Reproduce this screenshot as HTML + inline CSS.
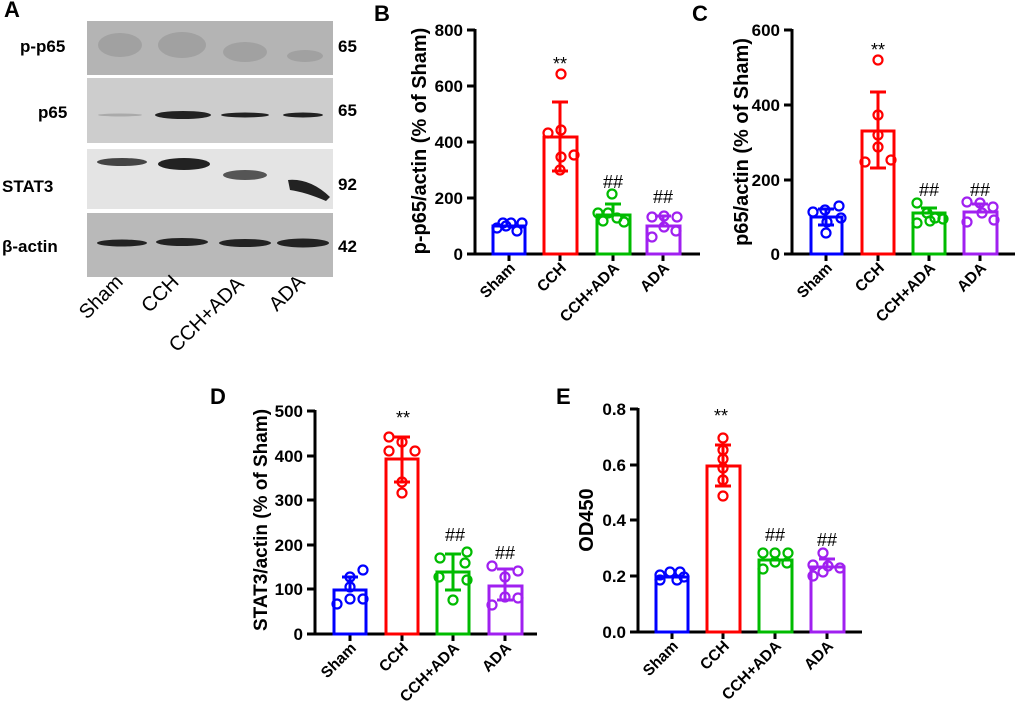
<!DOCTYPE html>
<html><head><meta charset="utf-8"><style>
html,body{margin:0;padding:0;background:#fff;}
svg{display:block;font-family:"Liberation Sans",Arial,sans-serif;}
.t{font-weight:bold;font-size:17px;}
.c{font-weight:bold;font-size:15.5px;}
.yl{font-weight:bold;font-size:20px;}
.pl{font-weight:bold;font-size:22px;}
.st{font-size:18px;}
.ax{stroke:#000;stroke-width:3;fill:none;}
.b{fill:none;stroke:blue;stroke-width:3}.bp{fill:none;stroke:blue;stroke-width:2.2}
.r{fill:none;stroke:#f00;stroke-width:3}.rp{fill:none;stroke:#f00;stroke-width:2.2}
.g{fill:none;stroke:#0b0;stroke-width:3}.gp{fill:none;stroke:#0b0;stroke-width:2.2}
.p{fill:none;stroke:#a020f0;stroke-width:3}.pp{fill:none;stroke:#a020f0;stroke-width:2.2}
.wb{font-weight:bold;font-size:17px;}
.ln{font-size:20px;}
</style></head><body>
<svg width="1020" height="719" viewBox="0 0 1020 719">
<!-- Panel A -->
<text x="4" y="17" class="pl">A</text>
<rect x="87" y="21" width="246" height="54" fill="#b4b4b4"/>
<rect x="87" y="78" width="246" height="65" fill="#cdcdcd"/>
<rect x="87" y="149" width="246" height="60" fill="#e4e4e4"/>
<rect x="87" y="213" width="246" height="64" fill="#b9b9b9"/>
<g fill="#999" opacity="0.7">
<ellipse cx="120" cy="45" rx="22" ry="12"/><ellipse cx="182" cy="45" rx="24" ry="13"/><ellipse cx="245" cy="52" rx="22" ry="10"/><ellipse cx="305" cy="56" rx="18" ry="6"/>
</g>
<g fill="#222">
<ellipse cx="120" cy="115" rx="22" ry="1.5" fill="#aaa"/>
<ellipse cx="183" cy="115" rx="28" ry="4"/><ellipse cx="245" cy="115" rx="24" ry="2.5"/><ellipse cx="303" cy="115" rx="20" ry="2.5"/>
<ellipse cx="122" cy="162" rx="25" ry="4" fill="#444"/><ellipse cx="184" cy="164" rx="26" ry="6"/><ellipse cx="245" cy="175" rx="22" ry="5" fill="#555"/>
<path d="M288 180 Q310 178 330 197 L326 201 Q305 192 290 190 Z"/>
<ellipse cx="122" cy="243" rx="25" ry="3.5"/><ellipse cx="182" cy="242" rx="26" ry="4"/><ellipse cx="245" cy="243" rx="26" ry="4"/><ellipse cx="303" cy="243" rx="26" ry="4.5"/>
</g>
<text x="20" y="52" class="wb">p-p65</text>
<text x="38" y="118" class="wb">p65</text>
<text x="2" y="192" class="wb">STAT3</text>
<text x="2" y="252" class="wb">β-actin</text>
<text x="338" y="52" class="wb">65</text>
<text x="338" y="116" class="wb">65</text>
<text x="338" y="190" class="wb">92</text>
<text x="338" y="252" class="wb">42</text>
<text class="ln" text-anchor="end" transform="translate(124,283) rotate(-45)">Sham</text>
<text class="ln" text-anchor="end" transform="translate(180,283) rotate(-45)">CCH</text>
<text class="ln" text-anchor="end" transform="translate(245,285) rotate(-45)">CCH+ADA</text>
<text class="ln" text-anchor="end" transform="translate(306,283) rotate(-45)">ADA</text>

<!-- Panel B -->
<text x="374" y="21" class="pl">B</text>
<path class="ax" d="M475 29 V254 H700"/>
<path class="ax" d="M467 30h8M467 86h8M467 142h8M467 198h8M467 254h8M509 254v7M560 254v7M613 254v7M663 254v7" stroke-width="2.5"/>
<g class="t" text-anchor="end"><text x="463" y="36">800</text><text x="463" y="92">600</text><text x="463" y="148">400</text><text x="463" y="204">200</text><text x="463" y="260">0</text></g>
<text class="yl" text-anchor="middle" transform="translate(426,141) rotate(-90)">p-p65/actin (% of Sham)</text>
<rect class="b" x="493" y="226" width="32" height="28"/>
<rect class="r" x="544" y="137" width="33" height="117"/>
<rect class="g" x="597" y="215" width="33" height="39"/>
<rect class="p" x="647" y="226" width="33" height="28"/>
<path class="r" d="M560 102V171M552 102h16M552 171h16" stroke-width="2"/>
<path class="g" d="M613 204v11M605 204h16" stroke-width="2"/>
<path class="p" d="M663 216v10M655 216h16" stroke-width="2"/>
<g class="bp"><circle cx="497" cy="228" r="4.5"/><circle cx="503" cy="223" r="4.5"/><circle cx="511" cy="223" r="4.5"/><circle cx="517" cy="231" r="4.5"/><circle cx="522" cy="223" r="4.5"/><circle cx="506" cy="226" r="4.5"/></g>
<g class="rp"><circle cx="561" cy="74" r="4.5"/><circle cx="548" cy="133" r="4.5"/><circle cx="561" cy="130" r="4.5"/><circle cx="561" cy="157" r="4.5"/><circle cx="574" cy="155" r="4.5"/><circle cx="560" cy="170" r="4.5"/></g>
<g class="gp"><circle cx="612" cy="194" r="4.5"/><circle cx="598" cy="213" r="4.5"/><circle cx="608" cy="213" r="4.5"/><circle cx="617" cy="218" r="4.5"/><circle cx="624" cy="222" r="4.5"/><circle cx="603" cy="221" r="4.5"/></g>
<g class="pp"><circle cx="652" cy="217" r="4.5"/><circle cx="664" cy="216" r="4.5"/><circle cx="677" cy="217" r="4.5"/><circle cx="652" cy="237" r="4.5"/><circle cx="664" cy="227" r="4.5"/><circle cx="676" cy="231" r="4.5"/></g>
<g class="st" text-anchor="middle"><text x="560" y="70">**</text><text x="613" y="188">##</text><text x="663" y="203">##</text></g>
<g class="c" text-anchor="end"><text transform="translate(516,269) rotate(-45)">Sham</text><text transform="translate(567,269) rotate(-45)">CCH</text><text transform="translate(620,269) rotate(-45)">CCH+ADA</text><text transform="translate(670,269) rotate(-45)">ADA</text></g>

<!-- Panel C -->
<text x="692" y="21" class="pl">C</text>
<path class="ax" d="M792 29 V254 H1015"/>
<path class="ax" d="M784 30h8M784 105h8M784 180h8M784 254h8M826 254v7M878 254v7M929 254v7M980 254v7" stroke-width="2.5"/>
<g class="t" text-anchor="end"><text x="780" y="36">600</text><text x="780" y="111">400</text><text x="780" y="186">200</text><text x="780" y="260">0</text></g>
<text class="yl" text-anchor="middle" transform="translate(748,142) rotate(-90)">p65/actin (% of Sham)</text>
<rect class="b" x="811" y="217" width="31" height="37"/>
<rect class="r" x="862" y="131" width="32" height="123"/>
<rect class="g" x="913" y="213" width="32" height="41"/>
<rect class="p" x="964" y="212" width="33" height="42"/>
<path class="b" d="M826 209V225M818 209h16M818 225h16" stroke-width="2"/>
<path class="r" d="M878 92V168M870 92h16M870 168h16" stroke-width="2"/>
<path class="g" d="M929 208v5M921 208h16" stroke-width="2"/>
<path class="p" d="M980 204v8M972 204h16" stroke-width="2"/>
<g class="bp"><circle cx="813" cy="212" r="4.5"/><circle cx="825" cy="210" r="4.5"/><circle cx="839" cy="206" r="4.5"/><circle cx="841" cy="218" r="4.5"/><circle cx="827" cy="222" r="4.5"/><circle cx="826" cy="233" r="4.5"/></g>
<g class="rp"><circle cx="878" cy="60" r="4.5"/><circle cx="878" cy="115" r="4.5"/><circle cx="878" cy="135" r="4.5"/><circle cx="878" cy="147" r="4.5"/><circle cx="865" cy="162" r="4.5"/><circle cx="891" cy="160" r="4.5"/></g>
<g class="gp"><circle cx="917" cy="203" r="4.5"/><circle cx="927" cy="213" r="4.5"/><circle cx="935" cy="218" r="4.5"/><circle cx="943" cy="219" r="4.5"/><circle cx="917" cy="223" r="4.5"/><circle cx="930" cy="221" r="4.5"/></g>
<g class="pp"><circle cx="967" cy="202" r="4.5"/><circle cx="980" cy="203" r="4.5"/><circle cx="993" cy="207" r="4.5"/><circle cx="982" cy="213" r="4.5"/><circle cx="967" cy="222" r="4.5"/><circle cx="994" cy="220" r="4.5"/></g>
<g class="st" text-anchor="middle"><text x="878" y="56">**</text><text x="929" y="196">##</text><text x="980" y="196">##</text></g>
<g class="c" text-anchor="end"><text transform="translate(833,269) rotate(-45)">Sham</text><text transform="translate(885,269) rotate(-45)">CCH</text><text transform="translate(936,269) rotate(-45)">CCH+ADA</text><text transform="translate(987,269) rotate(-45)">ADA</text></g>

<!-- Panel D -->
<text x="210" y="404" class="pl">D</text>
<path class="ax" d="M315 410 V634 H537"/>
<path class="ax" d="M307 411h8M307 456h8M307 500h8M307 545h8M307 589h8M307 634h8M350 634v7M402 634v7M453 634v7M505 634v7" stroke-width="2.5"/>
<g class="t" text-anchor="end"><text x="303" y="417">500</text><text x="303" y="462">400</text><text x="303" y="506">300</text><text x="303" y="551">200</text><text x="303" y="595">100</text><text x="303" y="640">0</text></g>
<text class="yl" text-anchor="middle" style="font-size:19px" transform="translate(267,520) rotate(-90)">STAT3/actin (% of Sham)</text>
<rect class="b" x="334" y="590" width="32" height="44"/>
<rect class="r" x="386" y="459" width="32" height="175"/>
<rect class="g" x="437" y="572" width="32" height="62"/>
<rect class="p" x="489" y="586" width="33" height="48"/>
<path class="b" d="M350 577v13M342 577h16" stroke-width="2"/>
<path class="r" d="M402 437V482M394 437h16M394 482h16" stroke-width="2"/>
<path class="g" d="M453 554V590M445 554h16M445 590h16" stroke-width="2"/>
<path class="p" d="M505 569V600M497 569h16M497 600h16" stroke-width="2"/>
<g class="bp"><circle cx="337" cy="604" r="4.5"/><circle cx="350" cy="577" r="4.5"/><circle cx="350" cy="587" r="4.5"/><circle cx="363" cy="570" r="4.5"/><circle cx="350" cy="599" r="4.5"/><circle cx="363" cy="599" r="4.5"/></g>
<g class="rp"><circle cx="389" cy="437" r="4.5"/><circle cx="402" cy="442" r="4.5"/><circle cx="415" cy="451" r="4.5"/><circle cx="389" cy="451" r="4.5"/><circle cx="402" cy="482" r="4.5"/><circle cx="402" cy="493" r="4.5"/></g>
<g class="gp"><circle cx="440" cy="558" r="4.5"/><circle cx="467" cy="552" r="4.5"/><circle cx="465" cy="563" r="4.5"/><circle cx="439" cy="577" r="4.5"/><circle cx="467" cy="580" r="4.5"/><circle cx="453" cy="600" r="4.5"/></g>
<g class="pp"><circle cx="492" cy="566" r="4.5"/><circle cx="518" cy="571" r="4.5"/><circle cx="505" cy="577" r="4.5"/><circle cx="492" cy="605" r="4.5"/><circle cx="505" cy="597" r="4.5"/><circle cx="518" cy="598" r="4.5"/></g>
<g class="st" text-anchor="middle"><text x="403" y="424">**</text><text x="455" y="541">##</text><text x="505" y="559">##</text></g>
<g class="c" text-anchor="end"><text transform="translate(357,649) rotate(-45)">Sham</text><text transform="translate(409,649) rotate(-45)">CCH</text><text transform="translate(460,649) rotate(-45)">CCH+ADA</text><text transform="translate(512,649) rotate(-45)">ADA</text></g>

<!-- Panel E -->
<text x="556" y="404" class="pl">E</text>
<path class="ax" d="M638 408 V632 H862"/>
<path class="ax" d="M630 409h8M630 465h8M630 520h8M630 576h8M630 632h8M672 632v7M723 632v7M775 632v7M827 632v7" stroke-width="2.5"/>
<g class="t" text-anchor="end"><text x="626" y="415">0.8</text><text x="626" y="471">0.6</text><text x="626" y="526">0.4</text><text x="626" y="582">0.2</text><text x="626" y="638">0.0</text></g>
<text class="yl" text-anchor="middle" transform="translate(593,520) rotate(-90)">OD450</text>
<rect class="b" x="656" y="577" width="32" height="55"/>
<rect class="r" x="707" y="466" width="33" height="166"/>
<rect class="g" x="759" y="560" width="33" height="72"/>
<rect class="p" x="811" y="567" width="33" height="65"/>
<path class="r" d="M723 445V486M715 445h16M715 486h16" stroke-width="2"/>
<path class="p" d="M827 559v8M819 559h16" stroke-width="2"/>
<g class="bp"><circle cx="660" cy="575" r="4.5"/><circle cx="660" cy="580" r="4.5"/><circle cx="670" cy="572" r="4.5"/><circle cx="677" cy="580" r="4.5"/><circle cx="680" cy="572" r="4.5"/><circle cx="684" cy="577" r="4.5"/></g>
<g class="rp"><circle cx="723" cy="438" r="4.5"/><circle cx="723" cy="450" r="4.5"/><circle cx="723" cy="459" r="4.5"/><circle cx="723" cy="468" r="4.5"/><circle cx="723" cy="480" r="4.5"/><circle cx="723" cy="496" r="4.5"/></g>
<g class="gp"><circle cx="763" cy="553" r="4.5"/><circle cx="775" cy="553" r="4.5"/><circle cx="788" cy="553" r="4.5"/><circle cx="763" cy="569" r="4.5"/><circle cx="775" cy="562" r="4.5"/><circle cx="787" cy="563" r="4.5"/></g>
<g class="pp"><circle cx="823" cy="553" r="4.5"/><circle cx="813" cy="565" r="4.5"/><circle cx="828" cy="566" r="4.5"/><circle cx="840" cy="568" r="4.5"/><circle cx="813" cy="576" r="4.5"/><circle cx="823" cy="572" r="4.5"/></g>
<g class="st" text-anchor="middle"><text x="721" y="422">**</text><text x="775" y="541">##</text><text x="827" y="546">##</text></g>
<g class="c" text-anchor="end"><text transform="translate(679,647) rotate(-45)">Sham</text><text transform="translate(730,647) rotate(-45)">CCH</text><text transform="translate(782,647) rotate(-45)">CCH+ADA</text><text transform="translate(834,647) rotate(-45)">ADA</text></g>
</svg>
</body></html>
